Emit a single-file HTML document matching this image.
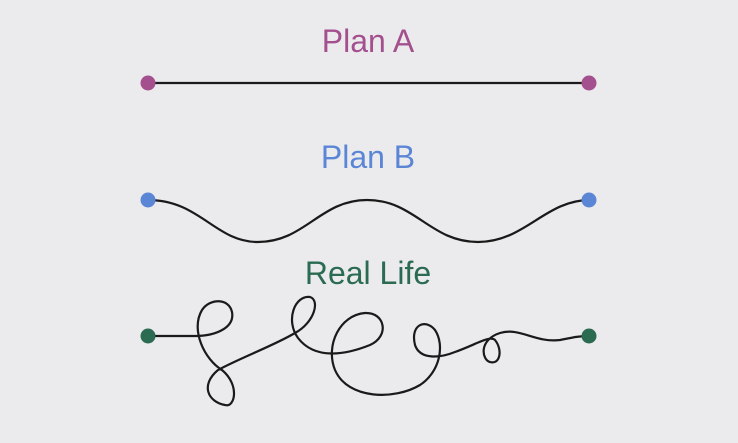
<!DOCTYPE html>
<html><head><meta charset="utf-8"><style>
html,body{margin:0;padding:0;background:#ebebed;}
svg{display:block}
</style></head><body>
<svg width="738" height="443" viewBox="0 0 738 443">
<rect width="738" height="443" fill="#ebebed"/>
<g font-family="Liberation Sans, sans-serif" font-size="32" text-anchor="middle">
<text x="368" y="52" fill="#a4508f">Plan A</text>
<text x="368" y="168" fill="#5b86d6">Plan B</text>
<text x="368" y="284" fill="#2a6b52">Real Life</text>
</g>
<g fill="none" stroke="#1a1a1a" stroke-width="2.2" stroke-linecap="round">
<line x1="148" y1="83" x2="589" y2="83"/>
<path d="M148,200 C200,200 215,242 258,242 C305,242 320,200 367,200 C415,200 430,242 478,242 C525,242 545,200 590,200"/>
<path d="M148,336 L195,336 C215,336 235,328 232,312 C229,298 210,298 202,310 C190,330 205,360 222,370 C240,385 235,408 225,405 C208,402 200,385 218,370 C240,358 275,345 295,333 C315,322 320,300 310,297 C295,295 285,320 298,338 C315,360 345,355 370,345 C390,336 385,312 365,313 C340,315 325,345 335,370 C348,400 395,400 420,385 C440,372 445,345 435,330 C425,318 410,325 415,345 C420,360 440,358 455,352 C475,345 490,335 495,340 C503,350 500,365 490,362 C482,360 478,340 500,333 C520,327 535,343 560,340 C575,337 580,336 588,336"/>
</g>
<circle cx="148" cy="83" r="7.5" fill="#a4508f"/>
<circle cx="589" cy="83" r="7.5" fill="#a4508f"/>
<circle cx="148" cy="200" r="7.5" fill="#5b86d6"/>
<circle cx="589" cy="200" r="7.5" fill="#5b86d6"/>
<circle cx="148" cy="336" r="7.5" fill="#2a6b52"/>
<circle cx="589" cy="336" r="7.5" fill="#2a6b52"/>
</svg>
</body></html>
